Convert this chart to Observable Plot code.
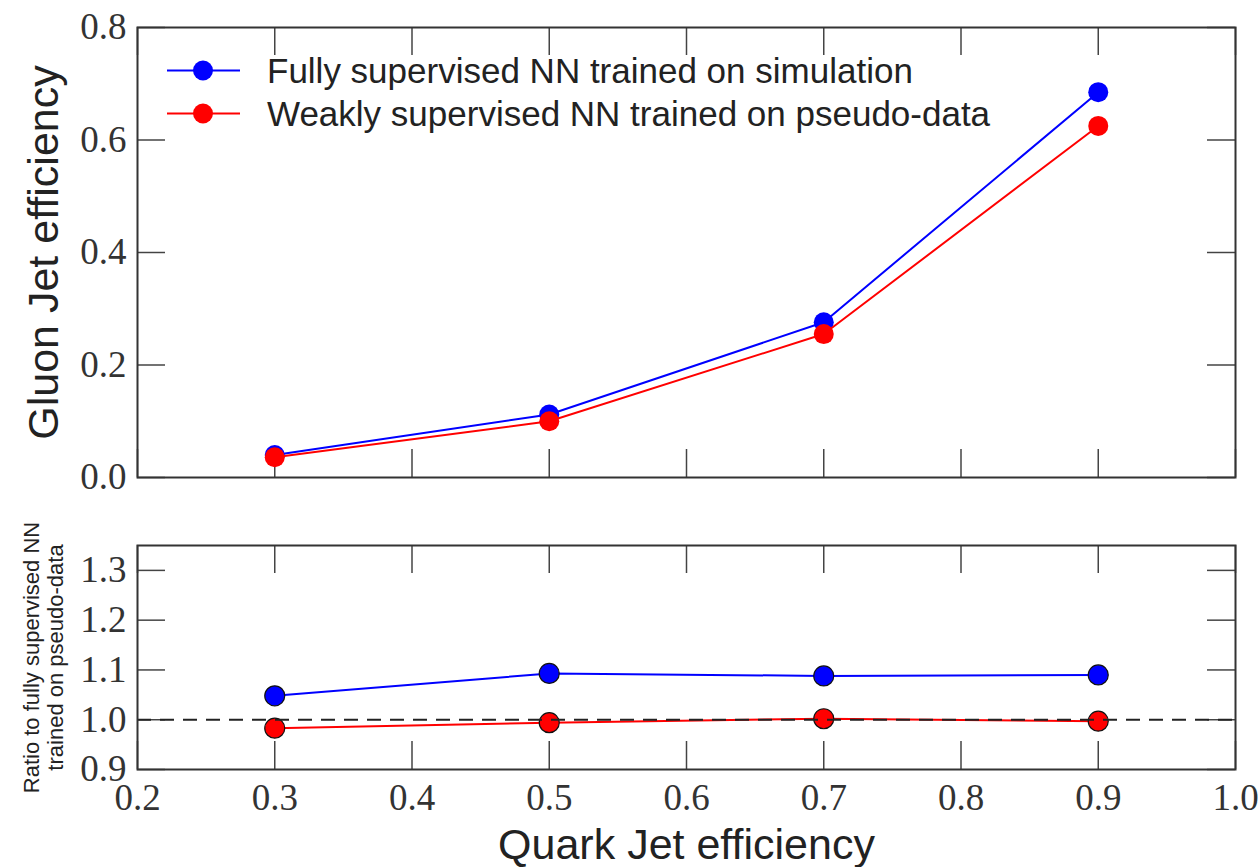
<!DOCTYPE html>
<html>
<head>
<meta charset="utf-8">
<script src="https://cdn.jsdelivr.net/npm/d3@7"></script>
<script src="https://cdn.jsdelivr.net/npm/@observablehq/plot@0.6"></script>
<style>
  body { margin: 0; background: #fff; }
  #chart { position: relative; width: 1260px; height: 867px; overflow: hidden; }
  #chart svg { display: block; }
  #legend { position: absolute; left: 167px; top: 49px; font-family: "Liberation Sans", Arial, sans-serif; font-size: 35px; color: #222; }
  #legend .row { display: flex; align-items: center; height: 43px; }
  #legend .row svg { margin-right: 27px; }
</style>
</head>
<body>
<div id="chart"></div>
<script>
// Quark-jet working points and the resulting gluon-jet efficiencies
const quarkEff = [0.3, 0.5, 0.7, 0.9];
const gluonFull = [0.040, 0.112, 0.276, 0.685];
const gluonWeak = [0.036, 0.100, 0.255, 0.625];
// Ratio panel values
const ratioFull = [1.048, 1.093, 1.088, 1.090];
const ratioWeak = [0.983, 0.994, 1.002, 0.997];

const seriesNames = [
  "Fully supervised NN trained on simulation",
  "Weakly supervised NN trained on pseudo-data"
];
const seriesColors = ["#0000ff", "#ff0000"];

const xTicks = [0.2, 0.3, 0.4, 0.5, 0.6, 0.7, 0.8, 0.9, 1.0];
const yTicksTop = [0.0, 0.2, 0.4, 0.6, 0.8];
const yTicksRatio = [0.9, 1.0, 1.1, 1.2, 1.3];
const refLine = [1.0];

const axisTitleTop = "Gluon Jet efficiency";
const axisTitleRatio = "Ratio to fully supervised NN\ntrained on pseudo-data";
const axisTitleX = "Quark Jet efficiency";

const rows = (ys) => quarkEff.map((x, i) => ({x, y: ys[i]}));

const W = 1260, ML = 137, MR = 25;
const innerW = W - ML - MR;
const TICK = 28;
const serif = "'Liberation Serif', 'DejaVu Serif', serif";
const sans = "'Liberation Sans', Arial, sans-serif";
const fmt = d3.format(".1f");
const ink = "#222";
const numInk = "#333";
const frameInk = "#333";
const tickInk = "#444";

// Inward ticks on all four sides of a panel
function innerTicks(xs, ys, innerH) {
  return [
    Plot.tickY(ys, {y: d => d, insetRight: innerW - TICK, stroke: tickInk, strokeWidth: 1.5}),
    Plot.tickY(ys, {y: d => d, insetLeft: innerW - TICK, stroke: tickInk, strokeWidth: 1.5}),
    Plot.tickX(xs, {x: d => d, insetBottom: innerH - TICK, stroke: tickInk, strokeWidth: 1.5}),
    Plot.tickX(xs, {x: d => d, insetTop: innerH - TICK, stroke: tickInk, strokeWidth: 1.5})
  ];
}

function seriesMarks(values, color, edge) {
  return [
    Plot.line(rows(values), {x: "x", y: "y", stroke: color, strokeWidth: 2}),
    Plot.dot(rows(values), {x: "x", y: "y", r: 10, fill: color, stroke: edge ? "#111" : "none", strokeWidth: edge ? 1.2 : 0})
  ];
}

// Upper panel: efficiencies
const topH = 520, topMT = 27, topMB = 43;
const topInner = topH - topMT - topMB;
const topPlot = Plot.plot({
  width: W, height: topH,
  marginLeft: ML, marginRight: MR, marginTop: topMT, marginBottom: topMB,
  x: {domain: [0.2, 1.0], axis: null},
  y: {domain: [0, 0.8], axis: null},
  style: {background: "white", color: ink, overflow: "visible"},
  marks: [
    Plot.axisY(yTicksTop, {anchor: "left", tickSize: 0, tickPadding: 11, tickFormat: fmt, fontSize: 37, fontFamily: serif, fill: numInk, label: null}),
    ...innerTicks(xTicks, yTicksTop, topInner),
    ...seriesMarks(gluonFull, seriesColors[0], false),
    ...seriesMarks(gluonWeak, seriesColors[1], false),
    Plot.frame({stroke: frameInk, strokeWidth: 2}),
    Plot.text([axisTitleTop], {text: d => d, frameAnchor: "left", textAnchor: "middle", rotate: -90, dx: -80, lineAnchor: "bottom", fontSize: 43, fontFamily: sans, fill: ink})
  ]
});

// Lower panel: ratios
const botH = 867 - topH, botMT = 25, botMB = 98;
const botInner = botH - botMT - botMB;
const botPlot = Plot.plot({
  width: W, height: botH,
  marginLeft: ML, marginRight: MR, marginTop: botMT, marginBottom: botMB,
  x: {domain: [0.2, 1.0], axis: null},
  y: {domain: [0.9, 1.35], axis: null},
  style: {background: "white", color: ink, overflow: "visible"},
  marks: [
    Plot.axisY(yTicksRatio, {anchor: "left", tickSize: 0, tickPadding: 11, tickFormat: fmt, fontSize: 37, fontFamily: serif, fill: numInk, label: null}),
    Plot.axisX(xTicks, {anchor: "bottom", tickSize: 0, tickPadding: 14, tickFormat: fmt, fontSize: 37, fontFamily: serif, fill: numInk, label: null}),
    ...innerTicks(xTicks, yTicksRatio, botInner),
    ...seriesMarks(ratioFull, seriesColors[0], true),
    ...seriesMarks(ratioWeak, seriesColors[1], true),
    Plot.ruleY(refLine, {stroke: "#222", strokeWidth: 2, strokeDasharray: "14,9"}),
    Plot.frame({stroke: frameInk, strokeWidth: 2}),
    Plot.text([axisTitleRatio], {text: d => d, frameAnchor: "left", textAnchor: "middle", rotate: -90, dx: -75, lineAnchor: "bottom", lineHeight: 1.09, fontSize: 22, fontFamily: sans, fill: ink}),
    Plot.text([axisTitleX], {text: d => d, frameAnchor: "bottom", dy: 89, lineAnchor: "bottom", fontSize: 43, fontFamily: sans, fill: ink})
  ]
});

const chart = document.getElementById("chart");
chart.appendChild(topPlot);
chart.appendChild(botPlot);

// Legend drawn over the upper panel
const legend = document.createElement("div");
legend.id = "legend";
seriesNames.forEach((name, i) => {
  const row = document.createElement("div");
  row.className = "row";
  const sw = d3.create("svg").attr("width", 73).attr("height", 43);
  sw.append("line").attr("x1", 0).attr("x2", 73).attr("y1", 21.5).attr("y2", 21.5)
    .attr("stroke", seriesColors[i]).attr("stroke-width", 2);
  sw.append("circle").attr("cx", 36).attr("cy", 21.5).attr("r", 10).attr("fill", seriesColors[i]);
  row.appendChild(sw.node());
  const label = document.createElement("span");
  label.textContent = name;
  row.appendChild(label);
  legend.appendChild(row);
});
chart.appendChild(legend);
</script>
</body>
</html>
